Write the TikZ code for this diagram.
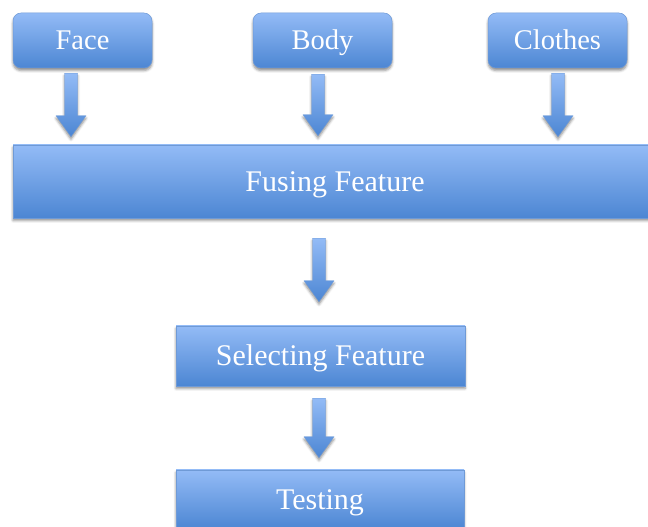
\documentclass[tikz,border=0pt]{standalone}
\usepackage{fontspec}
\setmainfont{Liberation Serif}
\usetikzlibrary{shadows.blur,calc}

\definecolor{boxtop}{HTML}{93BBF6}
\definecolor{boxbot}{HTML}{4C86D3}
\definecolor{boxedge}{HTML}{6F9AD6}

\tikzset{
  softshadow/.style={blur shadow={shadow xshift=0pt, shadow yshift=-2.5pt,
      shadow blur radius=2.5pt, shadow opacity=45}},
  stage/.style={rectangle, draw=boxedge, line width=0.5pt,
      top color=boxtop, bottom color=boxbot, softshadow,
      text=white, inner sep=0pt, align=center,
      text height=20pt, text depth=0pt, font=\fontsize{30}{34}\selectfont},
  source/.style={stage, rounded corners=8pt,
      minimum width=139pt, minimum height=55pt,
      text height=19pt, font=\fontsize{28.5}{32}\selectfont},
  flowarrow/.style={top color=boxtop, bottom color=boxbot, draw=boxedge,
      line width=0.3pt, softshadow},
}

% block arrow: shaft from #1 straight down to the tip level of #2
\newcommand\blockarrow[2]{%
  \path[flowarrow] let \p1=(#1), \p2=(#2) in
    (\x1-6.5pt,\y1) -- (\x1+6.5pt,\y1) -- (\x1+6.5pt,\y2+21pt)
    -- (\x1+15pt,\y2+21pt) -- (\x1,\y2) -- (\x1-15pt,\y2+21pt)
    -- (\x1-6.5pt,\y2+21pt) -- cycle;}

\begin{document}
\begin{tikzpicture}[x=1pt,y=1pt]
  \useasboundingbox (0,0) rectangle (648,527);
  \clip (0,0) rectangle (648,527);

  % feature sources
  \node[source] (face)    at (82.5,486.5)  {Face};
  \node[source] (body)    at (322.5,486.5) {Body};
  \node[source] (clothes) at (557.5,486.5) {Clothes};

  % processing stages
  \node[stage, minimum width=644pt, minimum height=73pt] (fuse)   at (335,345.5) {Fusing Feature};
  \node[stage, minimum width=289pt, minimum height=60pt] (select) at (320.5,171)  {Selecting Feature};
  \node[stage, minimum width=288pt, minimum height=59pt] (test)   at (320,27.5)   {Testing};

  % arrow end points
  \coordinate (a1s) at ([xshift=-11.5pt,yshift=-5pt]face.south);
  \coordinate (a1e) at ([yshift=8pt]fuse.north);
  \coordinate (a2s) at ([xshift=-4.5pt,yshift=-6pt]body.south);
  \coordinate (a2e) at ([yshift=9pt]fuse.north);
  \coordinate (a3s) at ([xshift=0.5pt,yshift=-5pt]clothes.south);
  \coordinate (a3e) at ([yshift=8pt]fuse.north);
  \coordinate (a4s) at ([xshift=-16pt,yshift=-20pt]fuse.south);
  \coordinate (a4e) at ([yshift=24pt]select.north);
  \coordinate (a5s) at ([xshift=-1.5pt,yshift=-12pt]select.south);
  \coordinate (a5e) at ([yshift=12pt]test.north);

  \blockarrow{a1s}{a1e}
  \blockarrow{a2s}{a2e}
  \blockarrow{a3s}{a3e}
  \blockarrow{a4s}{a4e}
  \blockarrow{a5s}{a5e}
\end{tikzpicture}
\end{document}
